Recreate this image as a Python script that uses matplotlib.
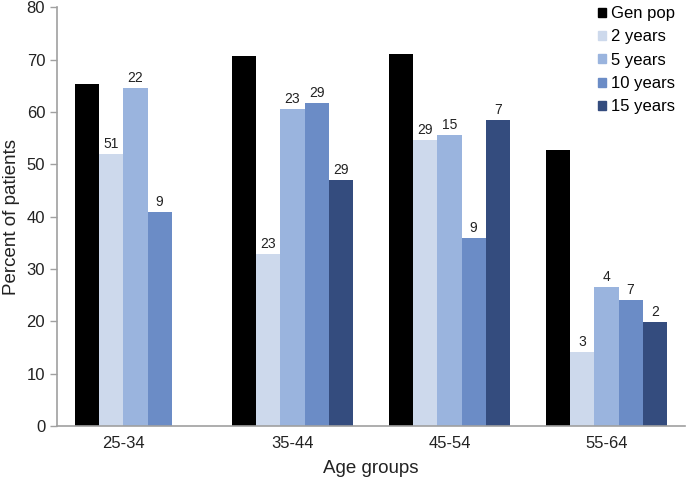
import numpy as np
import matplotlib.pyplot as plt
from matplotlib.patches import Patch

plt.rcParams['font.family'] = ['Liberation Sans', 'DejaVu Sans']

# Data
groups = ['25-34', '35-44', '45-54', '55-64']
series = ['Gen pop', '2 years', '5 years', '10 years', '15 years']
gen_pop = [65.3, 70.6, 71.0, 52.7]
yr2 = [51.9, 32.8, 54.6, 14.1]
yr5 = [64.6, 60.5, 55.6, 26.5]
yr10 = [40.9, 61.6, 35.9, 24.0]
yr15 = [np.nan, 47.0, 58.4, 19.9]
values = [gen_pop, yr2, yr5, yr10, yr15]
# n labels shown above bars (None = no label)
n_2 = ['51', '23', '29', '3']
n_5 = ['22', '23', '15', '4']
n_10 = ['9', '29', '9', '7']
n_15 = [None, '29', '7', '2']
counts = [[None] * 4, n_2, n_5, n_10, n_15]

colors = ['#000000', '#cdd9ec', '#9ab4de', '#6b8cc6', '#344c7e']

fig = plt.figure(figsize=(6.87, 4.78), dpi=100)
ax = fig.add_axes([0.083, 0.109, 0.914, 0.876])

w = 1 / 6.5
x = np.arange(len(groups))
tick_pos = []
for gi in range(len(groups)):
    present = [si for si in range(len(series)) if not np.isnan(values[si][gi])]
    tick_pos.append(gi + (np.mean(present) - 2) * w)

for si, (name, vals, col) in enumerate(zip(series, values, colors)):
    xs = x + (si - 2) * w
    ax.bar(xs, vals, width=w, color=col, label=name, linewidth=0)
    for xi, v, c in zip(xs, vals, counts[si]):
        if c is not None and not np.isnan(v):
            ax.text(xi, v + 0.6, c, ha='center', va='bottom', fontsize=10, color='#222222')

ax.set_xlim(-3.25 * w, 3 + 3.25 * w)
ax.set_ylim(0, 80)
ax.set_yticks(range(0, 81, 10))
ax.set_xticks(tick_pos)
ax.set_xticklabels(groups)
ax.tick_params(axis='x', length=0, labelsize=12, colors='#222222', pad=7)
ax.tick_params(axis='y', length=5, width=1, color='#a0a0a0', labelsize=12, labelcolor='#222222')

for s in ['top', 'right']:
    ax.spines[s].set_visible(False)
for s in ['left', 'bottom']:
    ax.spines[s].set_color('#a0a0a0')
    ax.spines[s].set_linewidth(1.2)

ax.set_ylabel('Percent of patients', fontsize=13.5, color='#222222', labelpad=5)
ax.set_xlabel('Age groups', fontsize=13.5, color='#222222', labelpad=7)

handles = [Patch(color=c) for c in colors]
fig.legend(handles, series, loc='upper left', bbox_to_anchor=(598 / 687, (478 - 6) / 478),
           frameon=False, fontsize=12, handlelength=0.45, handleheight=0.45,
           handletextpad=0.35, labelspacing=0.5, borderpad=0, borderaxespad=0)

fig.savefig('out.png', dpi=100)
